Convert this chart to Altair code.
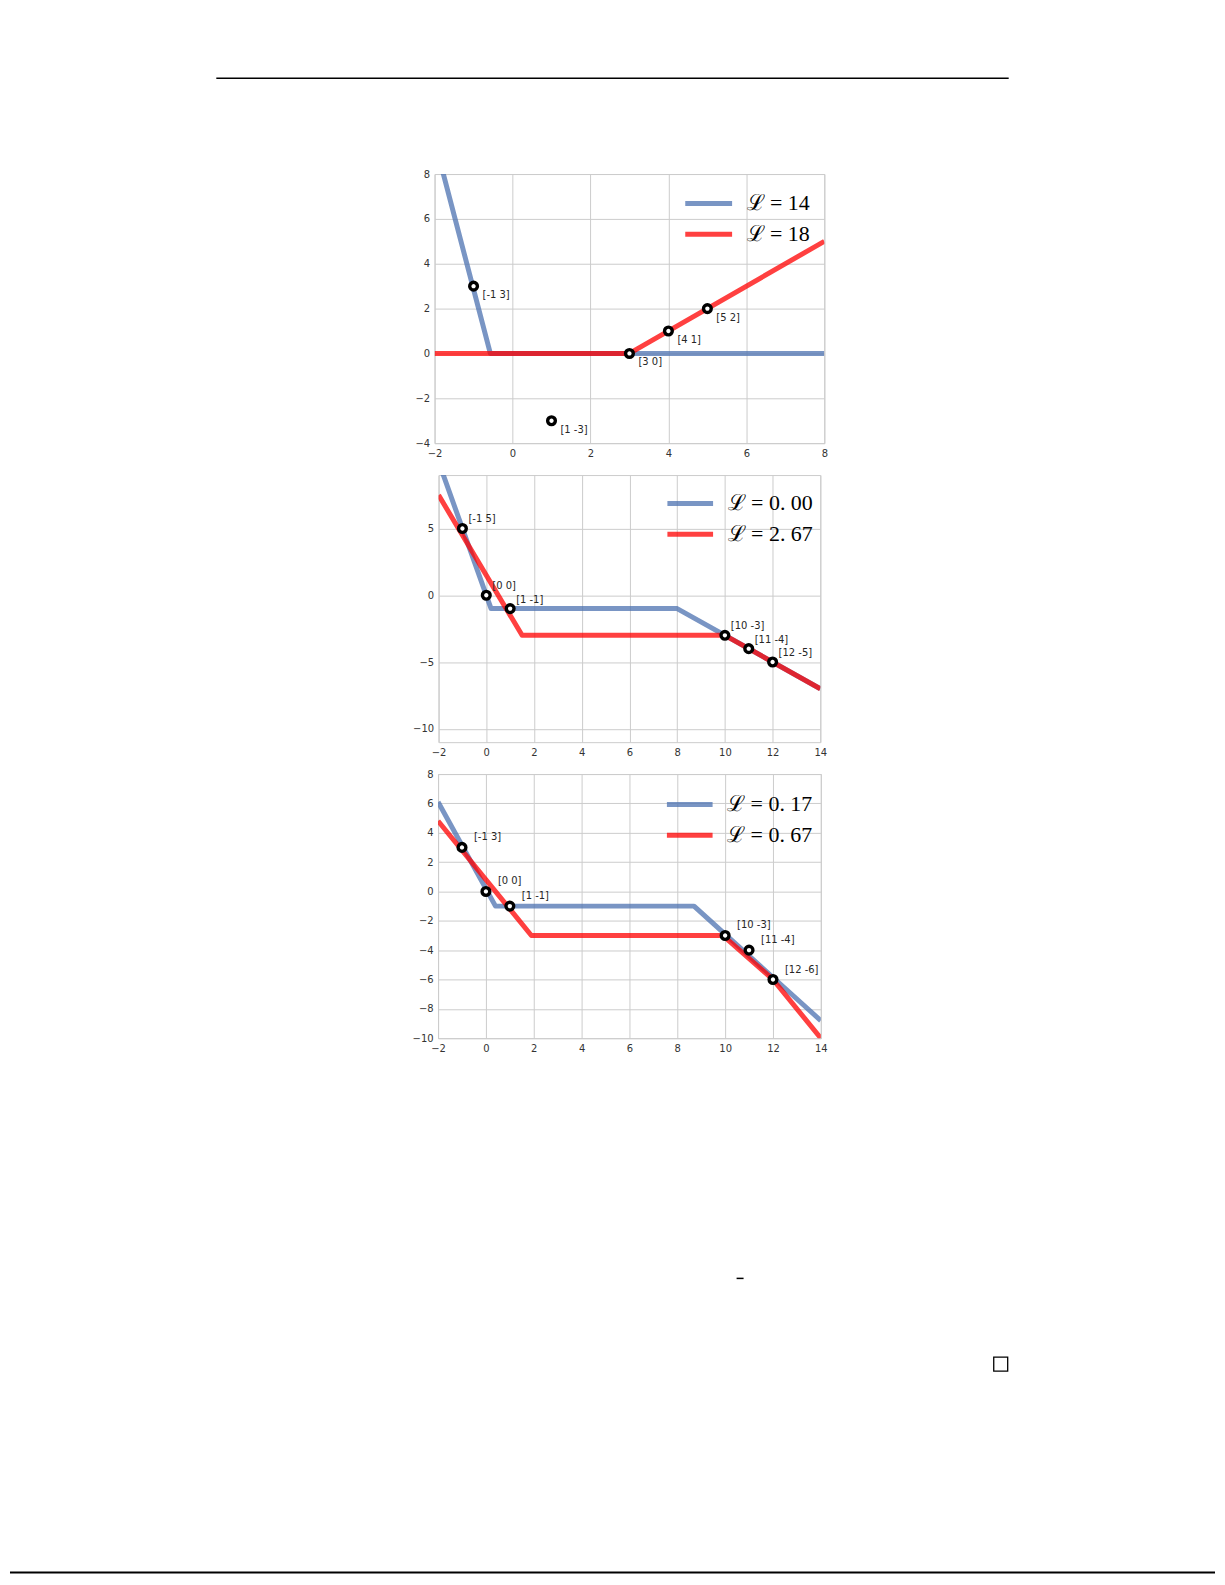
import altair as alt
import pandas as pd

# ---------------- data ----------------
# Panel 1
P1_BLUE_X = [-1.85, -0.57, 8.0]
P1_BLUE_Y = [8.5, 0.0, 0.0]
P1_RED_X = [-2.0, 3.0, 8.0]
P1_RED_Y = [0.0, 0.0, 5.0]
P1_PTS_X = [-1, 1, 3, 4, 5]
P1_PTS_Y = [3, -3, 0, 1, 2]
P1_LEGEND = ["ℒ = 14", "ℒ = 18"]
P1_XTICKS = [-2, 0, 2, 4, 6, 8]
P1_YTICKS = [-4, -2, 0, 2, 4, 6, 8]

# Panel 2
P2_BLUE_X = [-1.9, 0.2, 8.0, 14.0]
P2_BLUE_Y = [9.5, -1.0, -1.0, -7.0]
P2_RED_X = [-2.0, 1.5, 10.0, 14.0]
P2_RED_Y = [7.5, -3.0, -3.0, -7.0]
P2_PTS_X = [-1, 0, 1, 10, 11, 12]
P2_PTS_Y = [5, 0, -1, -3, -4, -5]
P2_LEGEND = ["ℒ = 0. 00", "ℒ = 2. 67"]
P2_XTICKS = [-2, 0, 2, 4, 6, 8, 10, 12, 14]
P2_YTICKS = [-10, -5, 0, 5]

# Panel 3
P3_BLUE_X = [-2.0, 0.4, 8.7, 14.0]
P3_BLUE_Y = [6.1, -1.0, -1.0, -8.8]
P3_RED_X = [-2.0, 1.9, 9.9, 12.0, 14.0]
P3_RED_Y = [4.8, -3.0, -3.0, -6.0, -10.0]
P3_PTS_X = [-1, 0, 1, 10, 11, 12]
P3_PTS_Y = [3, 0, -1, -3, -4, -6]
P3_LEGEND = ["ℒ = 0. 17", "ℒ = 0. 67"]
P3_XTICKS = [-2, 0, 2, 4, 6, 8, 10, 12, 14]
P3_YTICKS = [-10, -8, -6, -4, -2, 0, 2, 4, 6, 8]

BLUE = "#4C72B0"
RED = "#FF0000"
GRID = "#cccccc"


def panel(bx, by, rx, ry, px, py, leg, xdom, ydom, xticks, yticks,
          w, h, ldx, ldy, legx, legy, symsize, laboff):
    blue_df = pd.DataFrame({"x": bx, "y": by, "series": [leg[0]] * len(bx),
                            "o": list(range(len(bx)))})
    red_df = pd.DataFrame({"x": rx, "y": ry, "series": [leg[1]] * len(rx),
                           "o": list(range(len(rx)))})
    pts_df = pd.DataFrame({"x": px, "y": py,
                           "label": [f"[{a} {b}]" for a, b in zip(px, py)]})
    xs = alt.Scale(domain=xdom, nice=False, zero=False)
    ys = alt.Scale(domain=ydom, nice=False, zero=False)
    xax = alt.Axis(values=xticks, title=None, labelFlush=False, labelOverlap=False)
    yax = alt.Axis(values=yticks, title=None, labelFlush=False, labelOverlap=False)
    color = alt.Color(
        "series:N",
        scale=alt.Scale(domain=leg, range=[BLUE, RED]),
        legend=alt.Legend(
            orient="none", legendX=legx, legendY=legy, title=None,
            symbolType="stroke", symbolStrokeWidth=5, symbolSize=symsize,
            symbolOpacity=0.75,
            labelFont="Liberation Serif, DejaVu Serif", labelFontSize=22,
            labelColor="black", labelOffset=laboff, rowPadding=0, clipHeight=31,
            padding=0, labelLimit=300,
        ),
    )
    X = alt.X("x:Q", scale=xs, axis=xax)
    Y = alt.Y("y:Q", scale=ys, axis=yax)
    blue = alt.Chart(blue_df).mark_line(strokeWidth=5, opacity=0.75, clip=True,
                                        strokeJoin="round").encode(
        x=X, y=Y, color=color, order="o:Q")
    red = alt.Chart(red_df).mark_line(strokeWidth=5, opacity=0.75, clip=True,
                                      strokeJoin="round").encode(
        x=X, y=Y, color=color, order="o:Q")
    pts = alt.Chart(pts_df).mark_circle(size=60, fill="white", stroke="black",
                                        strokeWidth=3.4, opacity=1).encode(x=X, y=Y)
    txt = alt.Chart(pts_df).mark_text(align="left", baseline="middle", dx=ldx, dy=ldy,
                                      fontSize=10, font="DejaVu Sans",
                                      color="#262626").encode(x=X, y=Y, text="label:N")
    return alt.layer(blue, red, pts, txt).properties(width=w, height=h)


p1 = panel(P1_BLUE_X, P1_BLUE_Y, P1_RED_X, P1_RED_Y, P1_PTS_X, P1_PTS_Y, P1_LEGEND,
           [-2, 8], [-4, 8], P1_XTICKS, P1_YTICKS, 391, 270, 9, 9, 249, 14, 2209, 12)
p2 = panel(P2_BLUE_X, P2_BLUE_Y, P2_RED_X, P2_RED_Y, P2_PTS_X, P2_PTS_Y, P2_LEGEND,
           [-2, 14], [-11, 9], P2_XTICKS, P2_YTICKS, 383, 268, 6, -9, 227, 13, 2100, 12)
p3 = panel(P3_BLUE_X, P3_BLUE_Y, P3_RED_X, P3_RED_Y, P3_PTS_X, P3_PTS_Y, P3_LEGEND,
           [-2, 14], [-10, 8], P3_XTICKS, P3_YTICKS, 384, 265, 12, -10, 227, 15, 2100, 12)

# page decorations (positions relative to panel 1 plot origin)
deco = alt.Chart(pd.DataFrame({"k": [0]}))
anchor = deco.mark_rule(color="white", strokeWidth=1).encode(
    x=alt.value(-426), x2=alt.value(-420), y=alt.value(-163))
top_rule = deco.mark_rule(color="black", strokeWidth=1.5).encode(
    x=alt.value(-219), x2=alt.value(576), y=alt.value(-96))
minus = deco.mark_rule(color="black", strokeWidth=1.5).encode(
    x=alt.value(303), x2=alt.value(310), y=alt.value(1108))
box = deco.mark_rect(fillOpacity=0, stroke="black", strokeWidth=1.3).encode(
    x=alt.value(561), x2=alt.value(575), y=alt.value(1187), y2=alt.value(1201))
bottom_rule = deco.mark_rule(color="black", strokeWidth=2).encode(
    x=alt.value(-426), x2=alt.value(783), y=alt.value(1403))

p1 = alt.layer(p1, anchor, top_rule, minus, box, bottom_rule)

chart = alt.vconcat(p1, p2, p3, spacing=32, bounds="flush", center=True).resolve_scale(
    color="independent"
).properties(padding=0).configure_view(
    stroke=GRID, strokeWidth=1
).configure_axis(
    grid=True, gridColor=GRID, gridWidth=1, domain=False, ticks=False,
    labelFont="DejaVu Sans", labelFontSize=10, labelColor="#333333", labelPadding=5,
    labelOverlap=False, labelFlush=False,
)

chart.save("out.html", embed_options={"renderer": "svg", "actions": False})
